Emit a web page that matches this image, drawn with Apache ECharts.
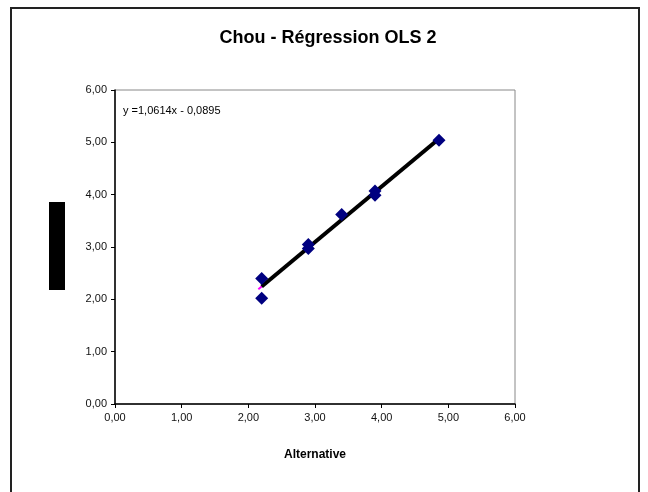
<!DOCTYPE html>
<html>
<head>
<meta charset="utf-8">
<script src="https://cdn.jsdelivr.net/npm/echarts@6/dist/echarts.min.js"></script>
<style>html,body{margin:0;padding:0;background:#fff;}#c{width:648px;height:492px;}</style>
</head>
<body>
<div id="c"></div>
<script>
const titleText = 'Chou - Régression OLS 2';
const xAxisName = 'Alternative';
const equationText = 'y =1,0614x - 0,0895';
const xValues = [2.2, 2.2, 2.9, 2.9, 3.4, 3.9, 3.9, 4.86];
const yValues = [2.02, 2.4, 3.05, 2.97, 3.62, 4.07, 3.99, 5.04];
const slope = 1.0614;
const intercept = -0.0895;
const trendBlackX = [2.2, 4.86];
const trendPinkX = [2.15, 4.86];
const axisMin = 0, axisMax = 6, axisStep = 1;

const fmt = v => v.toFixed(2).replace('.', ',');
const pts = xValues.map((x, i) => [x, yValues[i]]);
const line = xs => xs.map(x => [x, slope * x + intercept]);

const chart = echarts.init(document.getElementById('c'), null, {renderer: 'canvas'});
chart.setOption({
  animation: false,
  backgroundColor: '#fff',
  title: {
    text: titleText, left: 323, top: 24, textAlign: 'center',
    textStyle: {fontFamily: 'Liberation Sans, Arial', fontWeight: 'bold', fontSize: 18, color: '#000'}
  },
  grid: {left: 115, right: 133, top: 90, bottom: 88, show: true, borderColor: '#888', borderWidth: 1, backgroundColor: '#fff'},
  xAxis: {
    type: 'value', min: axisMin, max: axisMax, interval: axisStep,
    name: xAxisName, nameLocation: 'middle', nameGap: 45,
    nameTextStyle: {fontFamily: 'Liberation Sans, Arial', fontWeight: 'bold', fontSize: 12, color: '#000'},
    axisLine: {show: true, onZero: false, lineStyle: {color: '#000', width: 1.5}},
    axisTick: {show: true, inside: false, length: 4, lineStyle: {color: '#000'}},
    axisLabel: {formatter: fmt, fontFamily: 'Liberation Sans, Arial', fontSize: 11, color: '#111', margin: 8},
    splitLine: {show: false}
  },
  yAxis: {
    type: 'value', min: axisMin, max: axisMax, interval: axisStep,
    axisLine: {show: true, onZero: false, lineStyle: {color: '#000', width: 1.5}},
    axisTick: {show: true, inside: false, length: 4, lineStyle: {color: '#000'}},
    axisLabel: {formatter: fmt, fontFamily: 'Liberation Sans, Arial', fontSize: 11, color: '#111', margin: 8},
    splitLine: {show: false}
  },
  series: [
    {type: 'line', data: line(trendPinkX), symbol: 'none', lineStyle: {color: '#ff00ff', width: 2}, z: 1, silent: true},
    {type: 'line', data: line(trendBlackX), symbol: 'none', lineStyle: {color: '#000', width: 4}, z: 2, silent: true},
    {type: 'scatter', data: pts, symbol: 'diamond', symbolSize: 13, itemStyle: {color: '#000080', opacity: 1}, z: 3}
  ],
  graphic: [
    {type: 'rect', shape: {x: 11, y: 8, width: 628, height: 500}, style: {fill: 'none', stroke: '#222', lineWidth: 2}, z: 100},
    {type: 'rect', shape: {x: 49, y: 202, width: 16, height: 88}, style: {fill: '#000'}, z: 100},
    {type: 'text', left: 123, top: 105, style: {text: equationText, fontFamily: 'Liberation Sans, Arial', fontSize: 11, fill: '#000'}, z: 100}
  ]
});
</script>
</body>
</html>
